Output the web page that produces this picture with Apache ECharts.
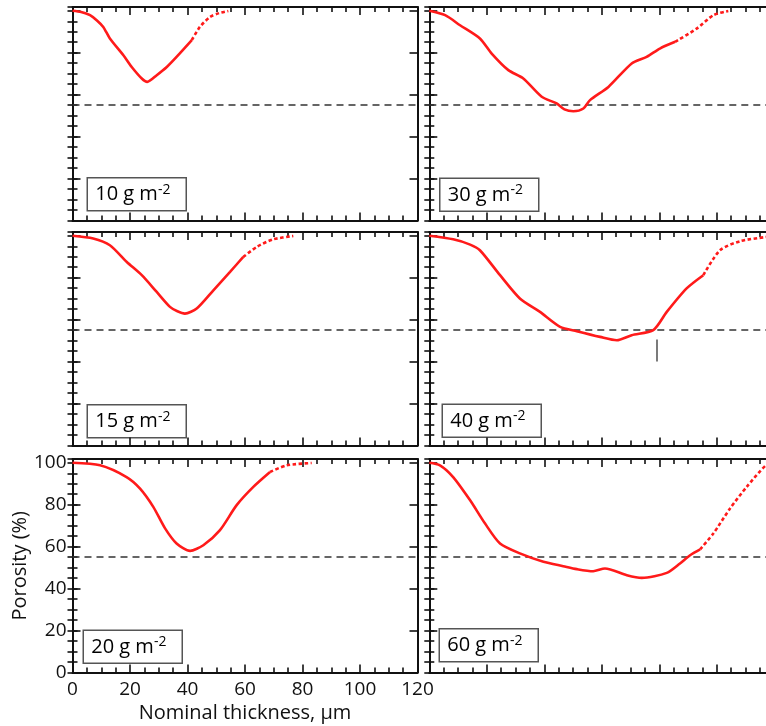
<!DOCTYPE html>
<html>
<head>
<meta charset="utf-8">
<script src="https://cdn.jsdelivr.net/npm/echarts@6/dist/echarts.min.js"></script>
<style>
  html, body { margin: 0; padding: 0; background: #fff; }
  #chart { width: 766px; height: 726px; }
</style>
</head>
<body>
<div id="chart"></div>
<script>
// Porosity profiles (%) against nominal thickness (µm) for six coat weights.
// Solid part = measured profile, "Ext" part = dotted continuation.
const p10 = [[0,100],[3,99.4],[6.1,97.9],[8.5,95.4],[10.7,92.3],[13,86.8],[17.7,78.8],[20.6,73.2],[24.1,67.7],[26,66.1],[29.3,69.3],[32.8,73.2],[36.2,78],[41.5,86]];
const p10Ext = [[41.5,86],[44.3,92.3],[47.8,97],[51,98.9],[54.2,99.9]];

const p30 = [[0,100],[5.5,97.9],[10.7,93.1],[17.6,86.8],[21.7,79.6],[27.5,71.7],[32.7,67.7],[39.1,59],[44.3,55.8],[47,53],[50.1,52.1],[53.6,53.4],[55.9,57.4],[62.3,63.7],[70.4,74.9],[75.6,78],[80.2,82],[85.5,85.2]];
const p30Ext = [[85.5,85.2],[93,91.5],[98.8,97.9],[104,99.9]];

const p15 = [[0,100],[7.2,98.7],[13,95.5],[18.9,87.5],[24.1,81.2],[29.3,73.2],[33.9,66.1],[36.5,64],[39.1,62.9],[43.2,65.3],[49,74],[54.8,82.8],[59.4,89.9]];
const p15Ext = [[59.4,89.9],[64.1,94.7],[69.8,98.3],[76.8,99.9]];

const p40 = [[0,100],[8.3,98.3],[14.2,95.8],[17.6,93.1],[24.6,81.2],[31.5,70.1],[38.5,63.7],[45.5,56.6],[51.3,54.5],[59.4,51.8],[65.2,50.2],[70.4,52.6],[77.9,55],[82.6,63.7],[89.5,74.9],[95.3,81.2]];
const p40Ext = [[95.3,81.2],[101.1,93.1],[108.1,97.4],[117.1,99.4],[120,99.6]];

const p20 = [[0,100],[9.6,98.8],[18.8,93.2],[23.5,87.7],[28.1,79],[32.2,68.7],[36.2,61.5],[40.9,58],[45.5,60.7],[51.3,67.9],[57.1,79.8],[62.9,88.5],[68.7,95.6]];
const p20Ext = [[68.7,95.6],[74.5,98.8],[83.2,99.9]];

const p60 = [[0,100],[3.7,98.8],[8.3,93.2],[14.2,82.1],[19.4,71],[24.6,61.5],[31.5,56.8],[39.7,52.8],[46.6,50.7],[51.3,49.3],[57,48.3],[61.1,49.6],[68.7,46.4],[73.9,45.1],[82.6,47.5],[87.2,52],[90.7,55.9],[94.2,58.7]];
const p60Ext = [[94.2,58.7],[98.8,66.3],[104.6,78.2],[110.4,88.5],[117.1,98.8],[120,100]];

// Reference porosity level drawn dashed in every panel
const refPorosity = 55;
// Short vertical marker in the 40 g m-2 panel
const marker40 = [[79.2,50.5],[79.2,40]];

// Coat weights (g m-2) shown in the panel boxes
const coatWeights = ['10','30','15','40','20','60'];

// Axis ranges and ticks
const xMin = 0, xMax = 120, xStep = 20;
const yMin = 0, yMax = 101.8, yStep = 20, yMinorStep = 5;

// ---- layout ----
const FONT = '"Open Sans", "Noto Sans", sans-serif';
const INK = '#111';
const RED = '#ff1a1a';
const colLeft = [72.5, 429.3];
const rowTop = [7, 232, 459];
const PW = 345, PH = 213.5;

const panels = [
  { w: coatWeights[0], solid: p10, ext: p10Ext, col: 0, row: 0, box: [86.5, 177] },
  { w: coatWeights[1], solid: p30, ext: p30Ext, col: 1, row: 0, box: [439, 177.5] },
  { w: coatWeights[2], solid: p15, ext: p15Ext, col: 0, row: 1, box: [86.5, 404] },
  { w: coatWeights[3], solid: p40, ext: p40Ext, col: 1, row: 1, box: [441.5, 403.5], marker: marker40 },
  { w: coatWeights[4], solid: p20, ext: p20Ext, col: 0, row: 2, box: [82.5, 629.5], labelled: true },
  { w: coatWeights[5], solid: p60, ext: p60Ext, col: 1, row: 2, box: [438.5, 628] }
];

const grid = [], xAxis = [], yAxis = [], series = [], graphic = [];

const lineAxis = { show: true, onZero: false, lineStyle: { color: INK, width: 2 } };
const tickStyle = { color: INK, width: 1.6 };

panels.forEach((p, i) => {
  grid.push({
    left: colLeft[p.col], top: rowTop[p.row], width: PW, height: PH,
    show: false, outerBoundsMode: 'none'
  });

  // bottom and top x axes
  ['bottom', 'top'].forEach(pos => {
    const showLbl = !!p.labelled && pos === 'bottom';
    xAxis.push({
      gridIndex: i, type: 'value', position: pos,
      min: xMin, max: xMax, interval: xStep,
      axisLine: lineAxis,
      axisTick: { show: true, inside: true, length: 8, lineStyle: tickStyle },
      minorTick: { show: true, splitNumber: 4, length: 5, lineStyle: tickStyle },
      splitLine: { show: false },
      axisLabel: { show: showLbl, color: INK, fontFamily: FONT, fontSize: 19, margin: 8 },
      name: showLbl ? 'Nominal thickness, \u00b5m' : '',
      nameLocation: 'middle', nameGap: 31,
      nameTextStyle: { color: INK, fontFamily: FONT, fontSize: 20 }
    });
  });

  // left / right y axes, each as a major (labelled) and a minor tick layer
  ['left', 'right'].forEach(pos => {
    const showLbl = !!p.labelled && pos === 'left';
    yAxis.push({
      gridIndex: i, type: 'value', position: pos,
      min: yMin, max: yMax, interval: yStep,
      axisLine: lineAxis,
      axisTick: { show: true, inside: true, length: 8, lineStyle: tickStyle },
      splitLine: { show: false },
      axisLabel: {
        show: showLbl, color: INK, fontFamily: FONT, fontSize: 19, margin: 6,
        showMaxLabel: false,
        formatter: v => (v % yStep === 0 ? String(v) : '')
      },
      name: showLbl ? 'Porosity (%)' : '',
      nameLocation: 'middle', nameGap: 36,
      nameTextStyle: { color: INK, fontFamily: FONT, fontSize: 20 }
    });
    yAxis.push({
      gridIndex: i, type: 'value', position: pos,
      min: yMin, max: yMax, interval: yMinorStep,
      axisLine: { show: false },
      axisTick: { show: true, inside: true, length: 5, lineStyle: tickStyle },
      splitLine: { show: false },
      axisLabel: { show: false }
    });
  });

  const xi = i * 2, yi = i * 4;

  series.push({
    type: 'line', xAxisIndex: xi, yAxisIndex: yi,
    data: p.solid, showSymbol: false, smooth: 0.25,
    lineStyle: { color: RED, width: 2.6 },
    z: 5,
    markLine: {
      silent: true, symbol: 'none', label: { show: false },
      lineStyle: { color: '#333', width: 1.5, type: [7, 5] },
      data: [{ yAxis: refPorosity }]
    }
  });
  series.push({
    type: 'line', xAxisIndex: xi, yAxisIndex: yi,
    data: p.ext, showSymbol: false, smooth: 0.25,
    lineStyle: { color: RED, width: 2.6, type: [3.5, 2.5] },
    z: 5
  });
  if (p.marker) {
    series.push({
      type: 'line', xAxisIndex: xi, yAxisIndex: yi,
      data: p.marker, showSymbol: false,
      lineStyle: { color: '#222', width: 1.2 }
    });
  }

  // boxed coat-weight label
  graphic.push({
    type: 'group', left: p.box[0], top: p.box[1], z: 100,
    children: [
      { type: 'rect', shape: { x: 0, y: 0, width: 99, height: 33 },
        style: { fill: '#fff', stroke: '#555', lineWidth: 1.5 } },
      { type: 'text', x: 8, y: 17,
        style: {
          text: '{a|' + p.w + ' g m}{s|-2}',
          verticalAlign: 'middle', align: 'left',
          rich: {
            a: { fontFamily: FONT, fontSize: 20, color: INK, lineHeight: 24 },
            s: { fontFamily: FONT, fontSize: 14, color: INK, verticalAlign: 'top', lineHeight: 14 }
          }
        } }
    ]
  });
});

const chart = echarts.init(document.getElementById('chart'), null, { renderer: 'canvas' });
chart.setOption({
  animation: false,
  backgroundColor: '#fff',
  grid, xAxis, yAxis, series, graphic
});
</script>
</body>
</html>
